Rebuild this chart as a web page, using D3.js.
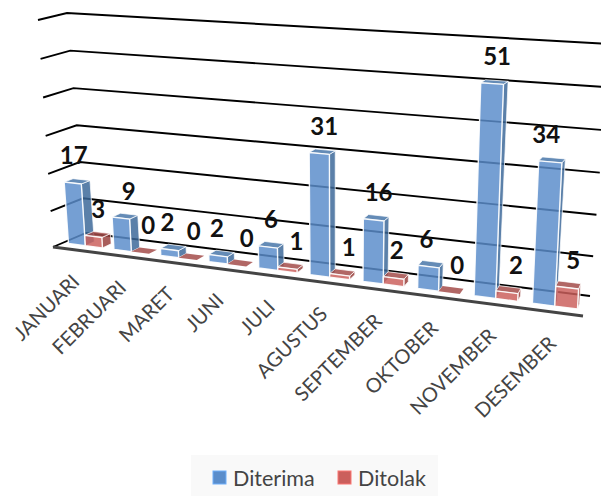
<!DOCTYPE html>
<html>
<head>
<meta charset="utf-8">
<script src="https://cdnjs.cloudflare.com/ajax/libs/d3/7.9.0/d3.min.js"></script>
<style>
html,body{margin:0;padding:0;background:#fff;}
svg{display:block;}
text{font-family:Lato,"Open Sans",sans-serif;}
</style>
</head>
<body>
<svg id="chart" width="601" height="496"></svg>
<script>
const months = ["JANUARI","FEBRUARI","MARET","JUNI","JULI","AGUSTUS","SEPTEMBER","OKTOBER","NOVEMBER","DESEMBER"];
const diterima = [17,9,2,2,6,31,16,6,51,34];
const ditolak = [3,0,0,0,1,1,2,0,2,5];
const seriesNames = ["Diterima","Ditolak"];
const valueTicks = [0,10,20,30,40,50,60];

const svg = d3.select("#chart");

// Corners of the 3D plot box as seen on the page: floor level and top level.
const box = {
  frontLeft:  {floor:[53,247], top:[38,20]},
  frontRight: {floor:[583,316], top:[595,54]},
  backLeft:   {floor:[86,233], top:[67,13]},
  backRight:  {floor:[590,296], top:[610,44]}
};

const lerp = (a,b,t) => [a[0]+(b[0]-a[0])*t, a[1]+(b[1]-a[1])*t];

// Height fraction; the slight power keeps upper gridlines a little further apart.
const heightScale = d3.scalePow().exponent(1.03).domain([0,60]).range([0,1]);

const bandScale = d3.scaleBand().domain(months).range([0,1]).paddingInner(0.25).paddingOuter(0.125);
const seriesScale = d3.scaleBand().domain(seriesNames).range([0,bandScale.bandwidth()]);

// Foreshortening along the category axis: the right end is nearer the viewer.
const nearFactor = 1.17;
const foreshorten = t => t/(t+(1-t)*nearFactor);

// Page position of a point given along-axis, depth (0 front, 1 back) and value.
function project(along, depth, value){
  const f = heightScale(value), u = foreshorten(along);
  const at = c => lerp(c.floor,c.top,f);
  const front = lerp(at(box.frontLeft),at(box.frontRight),u);
  const back = lerp(at(box.backLeft),at(box.backRight),u);
  return lerp(front,back,depth);
}

const barDepth = [0.3,0.58];
const line = d3.line();

// Gridlines run along the left wall and then the back wall.
svg.append("g").selectAll("path").data(valueTicks).join("path")
  .attr("d",v=>line([project(0,0,v),project(0,1,v),project(1,1,v)]))
  .attr("fill","none").attr("stroke","#000").attr("stroke-width",1.9);

// Front edge of the floor
svg.append("path")
  .attr("d",line([project(0,0,0),project(1,0,0)]))
  .attr("fill","none").attr("stroke","#444").attr("stroke-width",3);

const palette = {
  Diterima:{front:"#5a8dcb",side:"#3c6899",top:"#4675a8"},
  Ditolak:{front:"#cb5f5c",side:"#973f3c",top:"#a24a47"}
};

// Hand placement of the value labels along x, per bar.
const nudgeDiterima = [-4,3,-7,-6,-2,0,0,-7,0,-9];
const nudgeDitolak = [0,3,1,5,4,4,-2,3,4,1];

const bars = [];
months.forEach((m,i)=>{
  seriesNames.forEach((s,k)=>{
    bars.push({month:m,series:s,value:(k===0?diterima:ditolak)[i],
      nudge:(k===0?nudgeDiterima:nudgeDitolak)[i],
      a:bandScale(m)+seriesScale(s),b:bandScale(m)+seriesScale(s)+seriesScale.bandwidth()});
  });
});

const gBars = svg.append("g");
bars.forEach(d=>{
  const [d0,d1] = barDepth, v = d.value, c = palette[d.series];
  const g = gBars.append("g");
  const face = (pts,fill,sw)=>g.append("path").attr("d",line(pts)+"Z")
    .attr("fill",fill).attr("fill-opacity",0.84)
    .attr("stroke",sw?"#fff":"none").attr("stroke-width",sw).attr("stroke-opacity",0.9)
    .attr("stroke-linejoin","round");
  if(v>0){
    face([project(d.b,d0,0),project(d.b,d1,0),project(d.b,d1,v),project(d.b,d0,v)],c.side,0.8);
    face([project(d.a,d0,v),project(d.b,d0,v),project(d.b,d1,v),project(d.a,d1,v)],c.top,0.8);
    face([project(d.a,d0,0),project(d.b,d0,0),project(d.b,d0,v),project(d.a,d0,v)],c.front,1.4);
  } else {
    face([project(d.a,d0,0),project(d.b,d0,0),project(d.b,d1,0),project(d.a,d1,0)],c.top,0);
  }
});

// Value labels sit above the centre of each bar's top front edge.
svg.append("g").selectAll("text").data(bars).join("text")
  .text(d=>d.value)
  .attr("x",d=>project((d.a+d.b)/2,barDepth[0],d.value)[0]+5+d.nudge)
  .attr("y",d=>project((d.a+d.b)/2,barDepth[0],d.value)[1]-28)
  .attr("text-anchor","middle").attr("dominant-baseline","central")
  .attr("font-size",24).attr("font-weight",700).attr("fill","#111");

// Category labels hang below the front edge at 45 degrees.
svg.append("g").selectAll("text").data(months).join("text")
  .text(d=>d)
  .attr("transform",d=>{
    const p = project(bandScale(d)+bandScale.bandwidth()/2,0,0);
    return `translate(${p[0]+5},${p[1]+33}) rotate(-45)`;
  })
  .attr("text-anchor","end").attr("font-size",20).attr("fill","#444");

// Legend
const legend = svg.append("g");
legend.append("rect").attr("x",191).attr("y",455).attr("width",247).attr("height",41).attr("fill","#f9f9f9");
const legendX = d3.scaleOrdinal().domain(seriesNames).range([213,338]);
seriesNames.forEach(s=>{
  legend.append("rect").attr("x",legendX(s)).attr("y",471).attr("width",13).attr("height",13)
    .attr("fill",palette[s].front).attr("stroke",d3.color(palette[s].front).brighter(0.6)).attr("stroke-width",1);
  legend.append("text").text(s).attr("x",legendX(s)+20).attr("y",478)
    .attr("dominant-baseline","central").attr("font-size",21.5).attr("fill","#444");
});
</script>
</body>
</html>
